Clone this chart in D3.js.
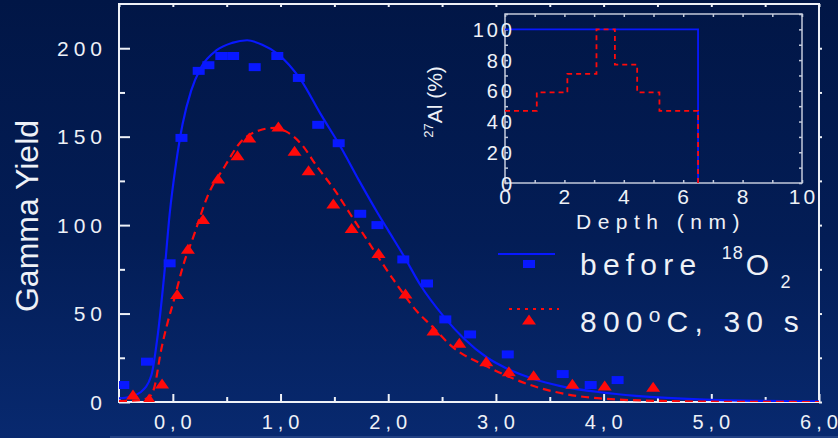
<!DOCTYPE html>
<html>
<head>
<meta charset="utf-8">
<script src="https://cdn.jsdelivr.net/npm/d3@7"></script>
<style>
  html, body { margin: 0; padding: 0; background: #01184a; }
  svg { display: block; font-family: Arial, "Liberation Sans", sans-serif; }
  .lbl { fill: #eef1f7; }
</style>
</head>
<body>
<div id="chart"></div>
<script>
// main plot: measured points (depth in nm, gamma yield)
var beforeX = [-0.46, -0.24, -0.03, 0.08, 0.24, 0.33, 0.45, 0.56, 0.76, 0.97, 1.17, 1.35, 1.54, 1.74, 1.9, 2.14, 2.36, 2.53, 2.76, 3.11, 3.62, 3.88, 4.13];
var beforeY = [9.6, 22.8, 78.4, 149.3, 187.2, 190.4, 195.6, 195.6, 189.3, 195.6, 183.2, 156.7, 146.3, 106.4, 100, 80.6, 67, 46.7, 38.2, 26.9, 15.8, 9.6, 12.4];

var afterX = [-0.37, -0.22, -0.1, 0.04, 0.14, 0.28, 0.42, 0.6, 0.71, 0.98, 1.13, 1.26, 1.49, 1.66, 1.91, 2.16, 2.42, 2.66, 2.91, 3.12, 3.35, 3.71, 4.01, 4.46];
var afterY = [4, 1.7, 10.2, 60.8, 86.3, 103.2, 126, 139.2, 149.2, 155.4, 141.8, 130.7, 112, 98.1, 84, 61, 40.1, 33.2, 22.8, 17.1, 14.9, 10, 9, 8.3];

// fitted curves
var beforeFitX = [-0.5, -0.4, -0.3, -0.2, -0.14, -0.08, -0.03, 0.03, 0.09, 0.17, 0.26, 0.41, 0.55, 0.69, 0.83, 0.97, 1.19, 1.37, 1.56, 1.74, 1.9, 2.0, 2.15, 2.3, 2.52, 2.7, 2.92, 3.1, 3.35, 3.6, 3.97, 4.3, 4.59, 5.0, 5.5, 6.0];
var beforeFitY = [2, 3, 5.5, 15, 38, 72, 106, 135, 157, 176, 189, 199, 203, 204.5, 202, 197, 182, 163, 144, 124, 107, 97, 82, 66, 48, 36, 25, 19, 13, 9, 5.5, 3.5, 2.3, 1.2, 0.6, 0.3];

var afterFitX = [-0.5, -0.3, -0.2, -0.17, -0.11, -0.05, 0.01, 0.1, 0.2, 0.26, 0.32, 0.48, 0.63, 0.8, 0.95, 1.05, 1.19, 1.34, 1.5, 1.65, 1.81, 2.05, 2.27, 2.42, 2.58, 2.92, 3.35, 3.97, 4.6, 5.2, 6.0];
var afterFitY = [0.5, 1, 4, 8.7, 29, 44.6, 57.6, 78, 95, 106, 116, 133, 147, 153.5, 155, 153, 146, 133, 120, 106, 91, 69, 51, 42, 32, 20, 9, 2, 0.5, 0.1, 0];

var xMajor = [0, 1, 2, 3, 4, 5, 6];
var xMinor = [-0.5, 0.5, 1.5, 2.5, 3.5, 4.5, 5.5];
var yMajor = [0, 50, 100, 150, 200];
var yMinor = [25, 75, 125, 175];

// inset: 27Al profile vs depth
var insetBlueDepth = [0, 6.5, 6.5];
var insetBlueAl = [100, 100, 0];
var insetRedEdges = [0, 1.07, 2.1, 3.08, 3.7, 4.45, 5.2, 6.5];
var insetRedLevels = [47, 59, 71, 100, 77, 59, 47];
var insetXTicks = [0, 2, 4, 6, 8, 10];
var insetYTicks = [0, 20, 40, 60, 80, 100];

var w = 838, h = 438;
var blue = "#0818ff", red = "#ff0a0a", white = "#eef1f7";

var svg = d3.select("#chart").append("svg")
  .attr("width", w).attr("height", h);

//background gradient
var grad = svg.append("defs").append("linearGradient")
  .attr("id", "bg").attr("x1", 0).attr("y1", 0).attr("x2", 0).attr("y2", 1);
grad.append("stop").attr("offset", "0%").attr("stop-color", "#011646");
grad.append("stop").attr("offset", "55%").attr("stop-color", "#031d56");
grad.append("stop").attr("offset", "100%").attr("stop-color", "#08296f");
svg.append("rect").attr("width", w).attr("height", h).attr("fill", "url(#bg)");

svg.append("clipPath").attr("id", "clip")
  .append("rect").attr("x", 119).attr("y", 4).attr("width", 700).attr("height", 398);

//scales
var x = d3.scaleLinear().domain([-0.5, 6]).range([119, 819]);
var y = d3.scaleLinear().domain([0, 225]).range([402, 4]);

var comma = function(d) { return d3.format(".1f")(d).replace(".", ","); };

//frame and ticks
function tickAxis(g, axis) { g.call(axis); g.select(".domain").remove(); g.selectAll("line").attr("stroke", white).attr("stroke-width", 2); }

svg.append("g").attr("transform", "translate(0,402)")
  .call(tickAxis, d3.axisBottom(x).tickValues(xMajor).tickSize(-8).tickFormat(""));
svg.append("g").attr("transform", "translate(0,402)")
  .call(tickAxis, d3.axisBottom(x).tickValues(xMinor).tickSize(-5).tickFormat(""));
svg.append("g").attr("transform", "translate(0,4)")
  .call(tickAxis, d3.axisTop(x).tickValues(xMajor.concat(xMinor)).tickSize(-3).tickFormat(""));
svg.append("g").attr("transform", "translate(119,0)")
  .call(tickAxis, d3.axisLeft(y).tickValues(yMajor).tickSize(-11).tickFormat(""));
svg.append("g").attr("transform", "translate(119,0)")
  .call(tickAxis, d3.axisLeft(y).tickValues(yMinor).tickSize(-6).tickFormat(""));
svg.append("g").attr("transform", "translate(819,0)")
  .call(tickAxis, d3.axisRight(y).tickValues(yMajor.concat(yMinor)).tickSize(3).tickFormat(""));

svg.append("rect").attr("x", 119).attr("y", 4).attr("width", 700).attr("height", 398)
  .attr("fill", "none").attr("stroke", white).attr("stroke-width", 2);

// faint line at the very bottom
svg.append("line").attr("x1", 110).attr("x2", 838).attr("y1", 437).attr("y2", 437)
  .attr("stroke", "#3d5a9a").attr("stroke-width", 1);

//tick labels
svg.append("g").selectAll("text").data(xMajor).enter().append("text")
  .attr("class", "lbl").attr("x", function(d) { return x(d) + 2.5; }).attr("y", 429)
  .attr("text-anchor", "middle").style("font-size", "20px").style("letter-spacing", "5px")
  .text(comma);
svg.append("g").selectAll("text").data(yMajor).enter().append("text")
  .attr("class", "lbl").attr("x", 107).attr("y", function(d) { return y(d) + 7.5; })
  .attr("text-anchor", "end").style("font-size", "21px").style("letter-spacing", "5px")
  .text(function(d) { return d; });

svg.append("text").attr("class", "lbl")
  .attr("transform", "translate(38,216) rotate(-90)")
  .attr("text-anchor", "middle").style("font-size", "32px")
  .text("Gamma Yield");

//curves
var plot = svg.append("g").attr("clip-path", "url(#clip)");
var line = d3.line()
  .x(function(d) { return x(d[0]); })
  .y(function(d) { return y(d[1]); })
  .curve(d3.curveMonotoneX);

plot.append("path").datum(d3.zip(beforeFitX, beforeFitY))
  .attr("d", line).attr("fill", "none").attr("stroke", blue).attr("stroke-width", 2.2);
plot.append("path").datum(d3.zip(afterFitX, afterFitY))
  .attr("d", line).attr("fill", "none").attr("stroke", red).attr("stroke-width", 2.2)
  .attr("stroke-dasharray", "8,5");

//markers
plot.selectAll(".sq").data(d3.zip(beforeX, beforeY)).enter().append("rect")
  .attr("x", function(d) { return x(d[0]) - 6; })
  .attr("y", function(d) { return y(d[1]) - 4; })
  .attr("width", 12).attr("height", 8).attr("fill", blue);
plot.selectAll(".tr").data(d3.zip(afterX, afterY)).enter().append("path")
  .attr("d", "M0,-5.5L7,4.5L-7,4.5Z")
  .attr("transform", function(d) { return "translate(" + x(d[0]) + "," + y(d[1]) + ")"; })
  .attr("fill", red);

//legend
var leg = svg.append("g");
leg.append("line").attr("x1", 498).attr("x2", 555).attr("y1", 254).attr("y2", 254)
  .attr("stroke", blue).attr("stroke-width", 2);
leg.append("rect").attr("x", 523).attr("y", 260).attr("width", 12).attr("height", 8).attr("fill", blue);
leg.append("line").attr("x1", 509).attr("x2", 559).attr("y1", 309).attr("y2", 309)
  .attr("stroke", red).attr("stroke-width", 2).attr("stroke-dasharray", "3,5");
leg.append("path").attr("d", "M0,-5.5L7,4.5L-7,4.5Z")
  .attr("transform", "translate(529,320)").attr("fill", red);

var t1 = leg.append("text").attr("class", "lbl").attr("x", 580).attr("y", 275)
  .style("font-size", "30px").style("letter-spacing", "6.2px");
t1.append("tspan").text("before ");
t1.append("tspan").attr("dx", 5).attr("dy", -16).style("font-size", "18px").style("letter-spacing", "1px").text("18");
t1.append("tspan").attr("dx", 2).attr("dy", 16).text("O");
t1.append("tspan").attr("dx", 5).attr("dy", 13).style("font-size", "18px").text("2");

var t2 = leg.append("text").attr("class", "lbl").attr("x", 580).attr("y", 332)
  .style("font-size", "30px").style("letter-spacing", "6.2px");
t2.append("tspan").text("800");
t2.append("tspan").attr("dy", -10).style("font-size", "21px").text("o");
t2.append("tspan").attr("dy", 10).text("C, 30 s");

//inset
var xi = d3.scaleLinear().domain([0, 10]).range([505, 802]);
var yi = d3.scaleLinear().domain([0, 110]).range([183, 14]);
var grey = "#c3cadb";

function insetAxis(g, axis) { g.call(axis); g.select(".domain").remove(); g.selectAll("line").attr("stroke", grey).attr("stroke-width", 1.5); }
var xiAll = d3.range(0, 11, 1), yiAll = d3.range(0, 111, 10);
svg.append("g").attr("transform", "translate(0,183)").call(insetAxis, d3.axisBottom(xi).tickValues(xiAll).tickSize(-3).tickFormat(""));
svg.append("g").attr("transform", "translate(0,14)").call(insetAxis, d3.axisTop(xi).tickValues(xiAll).tickSize(-3).tickFormat(""));
svg.append("g").attr("transform", "translate(505,0)").call(insetAxis, d3.axisLeft(yi).tickValues(yiAll).tickSize(-3).tickFormat(""));
svg.append("g").attr("transform", "translate(802,0)").call(insetAxis, d3.axisRight(yi).tickValues(yiAll).tickSize(-3).tickFormat(""));
svg.append("rect").attr("x", 505).attr("y", 14).attr("width", 297).attr("height", 169)
  .attr("fill", "none").attr("stroke", grey).attr("stroke-width", 1.5);

var iline = d3.line()
  .x(function(d) { return xi(d[0]); })
  .y(function(d) { return yi(d[1]); });

//build the red step profile from edges and levels
var redPts = [];
for (var i = 0; i < insetRedLevels.length; i++) {
  redPts.push([insetRedEdges[i], insetRedLevels[i]]);
  redPts.push([insetRedEdges[i + 1], insetRedLevels[i]]);
}
redPts.push([insetRedEdges[insetRedEdges.length - 1], 0]);

svg.append("path").datum(d3.zip(insetBlueDepth, insetBlueAl))
  .attr("d", iline).attr("fill", "none").attr("stroke", blue).attr("stroke-width", 1.8);
svg.append("path").datum(redPts)
  .attr("d", iline).attr("fill", "none").attr("stroke", red).attr("stroke-width", 1.8)
  .attr("stroke-dasharray", "5,4");

svg.append("g").selectAll("text").data(insetXTicks).enter().append("text")
  .attr("class", "lbl").attr("x", function(d) { return xi(d) + 1.5; }).attr("y", 204)
  .attr("text-anchor", "middle").style("font-size", "21px").style("letter-spacing", "3px")
  .text(function(d) { return d; });
svg.append("g").selectAll("text").data(insetYTicks).enter().append("text")
  .attr("class", "lbl").attr("x", 515).attr("y", function(d) { return yi(d) + 7.5; })
  .attr("text-anchor", "end").style("font-size", "20px").style("letter-spacing", "3px")
  .text(function(d) { return d; });

svg.append("text").attr("class", "lbl").attr("x", 661).attr("y", 229)
  .attr("text-anchor", "middle").style("font-size", "21px").style("letter-spacing", "6.5px")
  .text("Depth (nm)");

var ay = svg.append("text").attr("class", "lbl")
  .attr("transform", "translate(442,102) rotate(-90)")
  .attr("text-anchor", "middle").style("font-size", "21px");
ay.append("tspan").attr("dy", -9).style("font-size", "13px").text("27");
ay.append("tspan").attr("dy", 9).text("Al (%)");
</script>
</body>
</html>
